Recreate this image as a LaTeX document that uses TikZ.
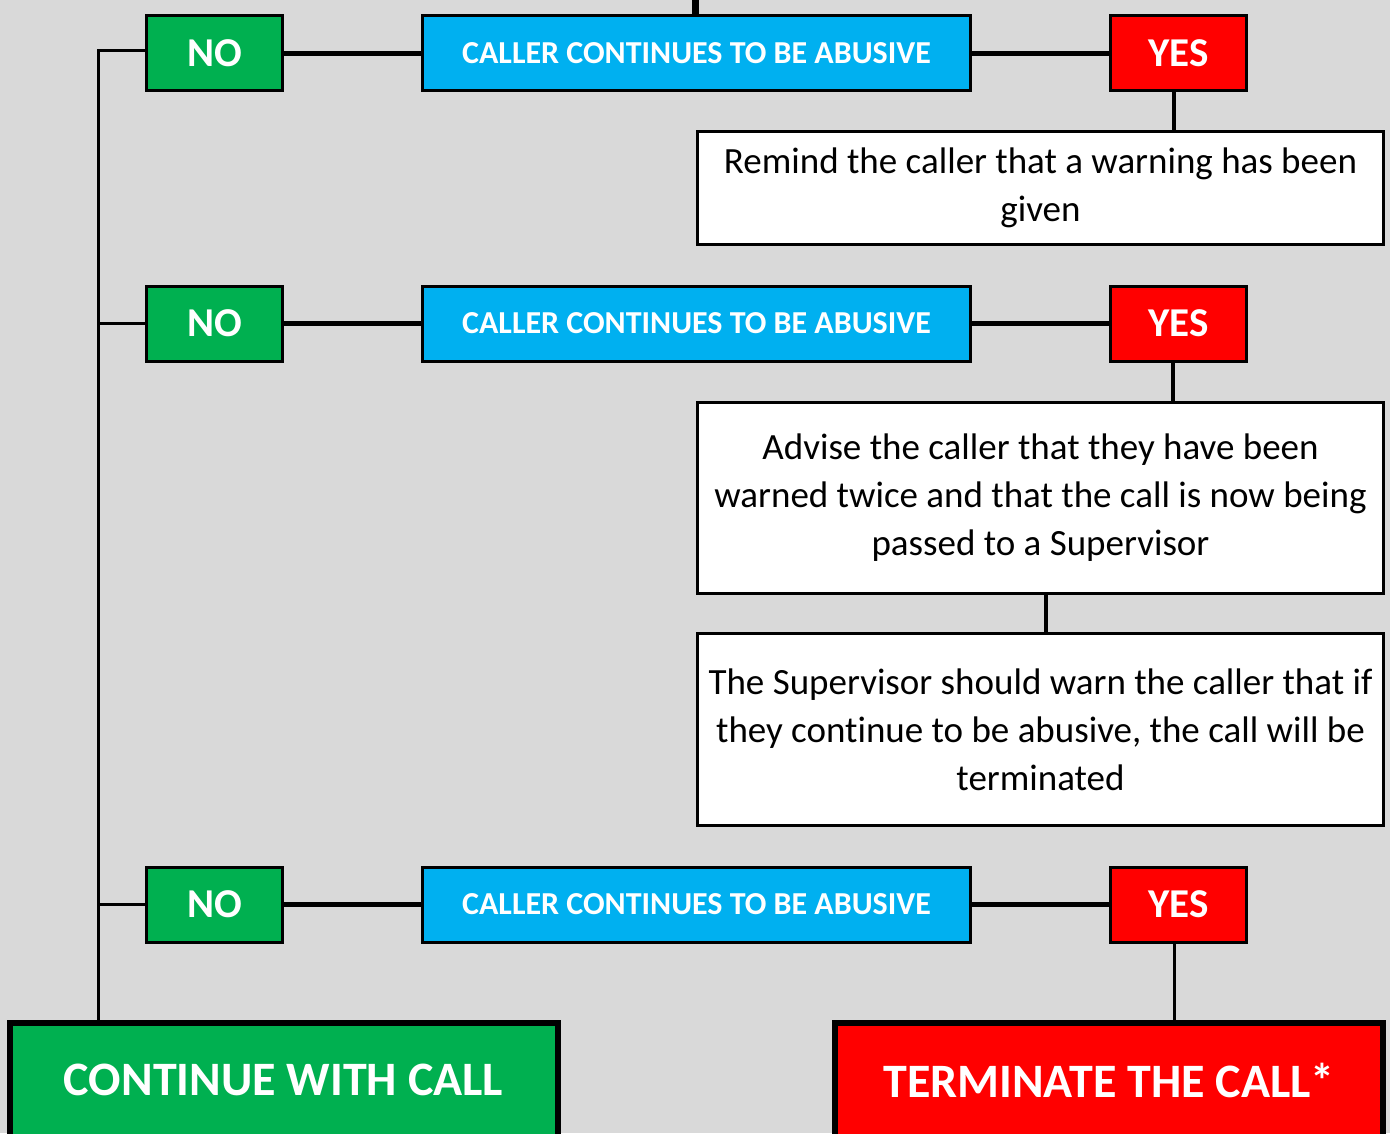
\documentclass[tikz,border=0pt]{standalone}
\usepackage{fontspec}
\setmainfont[Ligatures=NoCommon]{Carlito}
\definecolor{bg}{HTML}{D9D9D9}
\definecolor{gbox}{HTML}{00B050}
\definecolor{bbox}{HTML}{00B0F0}
\definecolor{rbox}{HTML}{FF0000}
\tikzset{
  base/.style={draw=black, line width=3pt, rectangle, inner sep=2pt, align=center},
  nobox/.style={base, fill=gbox, text=white, font=\bfseries\fontsize{41}{48}\selectfont, minimum width=136pt, minimum height=75pt},
  yesbox/.style={base, fill=rbox, text=white, font=\bfseries\fontsize{41}{48}\selectfont, minimum width=136pt, minimum height=75pt},
  qbox/.style={base, fill=bbox, text=white, font=\bfseries\fontsize{32}{40}\selectfont, minimum width=548pt, minimum height=75pt},
  infobox/.style={base, fill=white, text=black, font=\fontsize{37}{48}\selectfont, minimum width=686pt},
  endbox/.style={base, line width=6pt, text=white, font=\bfseries\fontsize{48}{56}\selectfont, minimum width=548pt, minimum height=114pt},
  hconn/.style={line width=5pt},
  vconn/.style={line width=4pt},
  spine/.style={line width=3pt},
}
\begin{document}
\begin{tikzpicture}[x=1pt,y=-1pt]
\fill[bg] (0,0) rectangle (1390,1133);
\clip (0,0) rectangle (1390,1133);
\useasboundingbox (0,0) rectangle (1390,1133);

% row 1
\node[nobox] (no1) at (214.5,53) {NO};
\node[qbox] (q1) at (696.5,53) {CALLER CONTINUES TO BE ABUSIVE};
\node[yesbox] (yes1) at (1178.5,53) {YES};
\node[infobox, minimum height=113pt] (remind) at (1040.5,188) {Remind the caller that a warning has been\\given};

% row 2
\node[nobox] (no2) at (214.5,323.5) {NO};
\node[qbox] (q2) at (696.5,323.5) {CALLER CONTINUES TO BE ABUSIVE};
\node[yesbox] (yes2) at (1178.5,323.5) {YES};
\node[infobox, minimum height=191pt] (advise) at (1040.5,498) {Advise the caller that they have been\\warned twice and that the call is now being\\passed to a Supervisor};
\node[infobox, minimum height=192pt] (sup) at (1040.5,729.5) {The Supervisor should warn the caller that if\\they continue to be abusive, the call will be\\terminated};

% row 3
\node[nobox] (no3) at (214.5,904.5) {NO};
\node[qbox] (q3) at (696.5,904.5) {CALLER CONTINUES TO BE ABUSIVE};
\node[yesbox] (yes3) at (1178.5,904.5) {YES};

% end boxes
\node[endbox, fill=gbox] (cont) at (283.5,1080) {CONTINUE WITH CALL};
\node[endbox, fill=rbox] (term) at (1109,1080) {TERMINATE THE CALL*};

% connectors
\coordinate (top) at (695,0);
\draw[line width=7pt] (top) -- (top |- q1.north);

\draw[hconn] (no1.east) -- (q1.west);
\draw[hconn] (q1.east) -- (yes1.west);
\draw[hconn] (no2.east) -- (q2.west);
\draw[hconn] (q2.east) -- (yes2.west);
\draw[hconn] (no3.east) -- (q3.west);
\draw[hconn] (q3.east) -- (yes3.west);

\coordinate (s1) at (98,50);
\draw[spine] (no1.west |- s1) -- (s1) -- (s1 |- cont.north);
\draw[spine] (no2.west) -- (s1 |- no2.west);
\draw[spine] (no3.west) -- (s1 |- no3.west);

\coordinate (y1) at (1174,0);
\draw[vconn] (y1 |- yes1.south) -- (y1 |- remind.north);
\coordinate (y2) at (1173,0);
\draw[vconn] (y2 |- yes2.south) -- (y2 |- advise.north);
\coordinate (a2) at (1046,0);
\draw[vconn] (a2 |- advise.south) -- (a2 |- sup.north);
\draw[spine] (y1 |- yes3.south) -- (y1 |- term.north);
\end{tikzpicture}
\end{document}
